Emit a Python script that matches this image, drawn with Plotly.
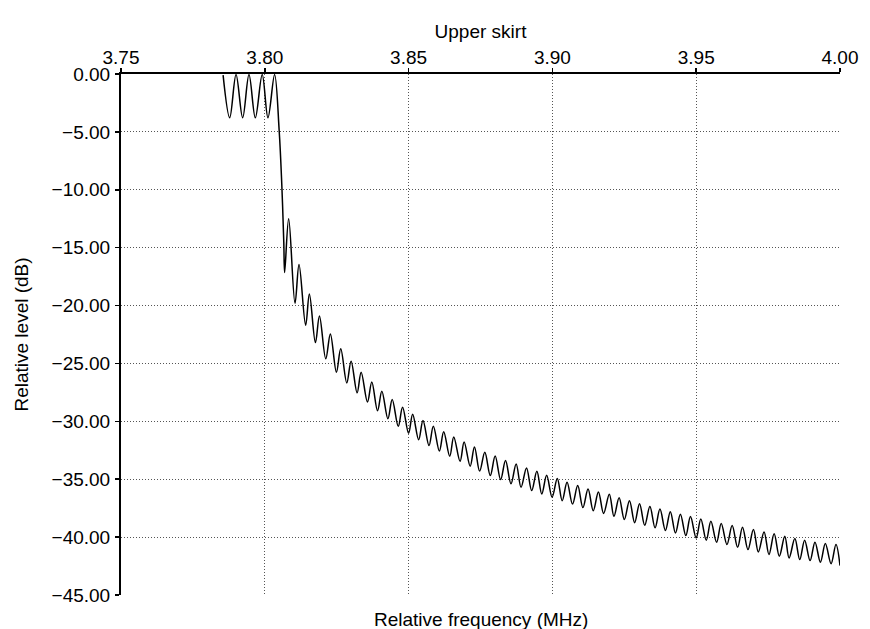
import plotly.graph_objects as go

# Curve (extrema and key points), MHz / dB
freq_mhz = [
    3.7855, 3.7878, 3.7900, 3.7923, 3.7945, 3.7967, 3.7991, 3.8011, 3.8034,
    3.8050, 3.8059, 3.8066,
    3.8069, 3.8083, 3.8105, 3.8119, 3.8142, 3.8155, 3.8176, 3.8190,
    3.8212, 3.8228, 3.8249, 3.8264, 3.8285, 3.8300, 3.8321, 3.8335,
    3.8357, 3.8372, 3.8392, 3.8407, 3.8428, 3.8443, 3.8464, 3.8479,
    3.8500, 3.8514, 3.8535, 3.8550, 3.8571, 3.8586, 3.8607, 3.8622,
    3.8643, 3.8657, 3.8679, 3.8693, 3.8714, 3.8729, 3.8747, 3.8765,
    3.8784, 3.8801, 3.8820, 3.8837, 3.8856, 3.8874, 3.8891, 3.8910,
    3.8928, 3.8946, 3.8963, 3.8980, 3.8999, 3.9017, 3.9034, 3.9051,
    3.9070, 3.9088, 3.9106, 3.9124, 3.9142, 3.9160, 3.9178, 3.9198,
    3.9214, 3.9232, 3.9250, 3.9268, 3.9286, 3.9303, 3.9321, 3.9339,
    3.9357, 3.9374, 3.9393, 3.9410, 3.9428, 3.9445, 3.9464, 3.9480,
    3.9500, 3.9516, 3.9535, 3.9551, 3.9571, 3.9587, 3.9607, 3.9625,
    3.9644, 3.9661, 3.9680, 3.9699, 3.9716, 3.9736, 3.9753, 3.9771,
    3.9789, 3.9808, 3.9823, 3.9843, 3.9860, 3.9877, 3.9896, 3.9913,
    3.9932, 3.9949, 3.9969, 3.9986, 4.0000,
]
level_db = [
    -0.10, -3.78, -0.05, -3.78, -0.05, -3.78, -0.05, -3.78, -0.05,
    -4.9, -9.5, -14.5,
    -17.15, -12.5, -19.8, -16.45, -21.7, -19.0, -23.2, -20.9,
    -24.6, -22.45, -25.76, -23.74, -26.68, -24.8, -27.54, -25.76,
    -28.33, -26.6, -29.08, -27.4, -29.78, -28.12, -30.43, -28.78,
    -31.03, -29.38, -31.59, -29.93, -32.09, -30.43, -32.57, -30.9,
    -33.02, -31.35, -33.45, -31.79, -33.87, -32.21, -34.3, -32.67,
    -34.68, -33.0, -35.03, -33.39, -35.4, -33.68, -35.7, -34.02,
    -35.98, -34.31, -36.27, -34.65, -36.55, -34.94, -36.85, -35.26,
    -37.15, -35.55, -37.45, -35.84, -37.72, -36.1, -37.95, -36.3,
    -38.2, -36.6, -38.48, -36.86, -38.75, -37.11, -38.98, -37.35,
    -39.2, -37.58, -39.43, -37.8, -39.65, -38.02, -39.87, -38.23,
    -40.07, -38.44, -40.27, -38.64, -40.45, -38.83, -40.64, -39.0,
    -40.88, -39.15, -41.08, -39.35, -41.28, -39.55, -41.5, -39.72,
    -41.65, -39.93, -41.8, -40.13, -41.94, -40.27, -42.03, -40.44,
    -42.17, -40.56, -42.3, -40.64, -42.46,
]

x_ticks = [3.75, 3.80, 3.85, 3.90, 3.95, 4.00]
y_ticks = [0, -5, -10, -15, -20, -25, -30, -35, -40, -45]

FONT = "Liberation Sans, Arial, Helvetica, sans-serif"
FS = 19

fig = go.Figure()
fig.add_trace(go.Scatter(
    x=freq_mhz, y=level_db, mode="lines",
    line=dict(color="black", width=1.5, shape="spline", smoothing=1.0),
    hoverinfo="skip",
))

axis_common = dict(
    showline=True, linecolor="black", linewidth=2,
    ticks="outside", ticklen=4, tickcolor="black", tickwidth=1.5,
    showgrid=True, gridcolor="#555555", griddash="1px,2px", gridwidth=1,
    zeroline=False, tickfont=dict(family=FONT, size=FS, color="black"),
)

fig.update_layout(
    width=870, height=629,
    margin=dict(l=121, r=22, t=74, b=34),
    paper_bgcolor="white", plot_bgcolor="white",
    showlegend=False,
    font=dict(family=FONT, size=FS, color="black"),
    xaxis=dict(
        side="top", range=[3.75, 4.0], tickvals=x_ticks,
        ticktext=[f"{v:.2f}" for v in x_ticks],
        ticklabelstandoff=-4,
        title=dict(text="Upper skirt", font=dict(family=FONT, size=FS), standoff=4),
        **axis_common,
    ),
    yaxis=dict(
        range=[-45, 0], tickvals=y_ticks, tickformat=".2f",
        ticklabelstandoff=1,
        title=dict(text="Relative level (dB)", font=dict(family=FONT, size=FS), standoff=18),
        **axis_common,
    ),
    annotations=[dict(
        text="Relative frequency (MHz)", xref="paper", yref="paper",
        x=0.5, y=0, yshift=-24, xanchor="center", yanchor="middle",
        showarrow=False, font=dict(family=FONT, size=FS, color="black"),
    )],
)

fig.write_html(
    "out.html",
    config={"displayModeBar": False, "staticPlot": True},
    post_script="document.body.style.margin='0';document.body.style.padding='0';",
)
